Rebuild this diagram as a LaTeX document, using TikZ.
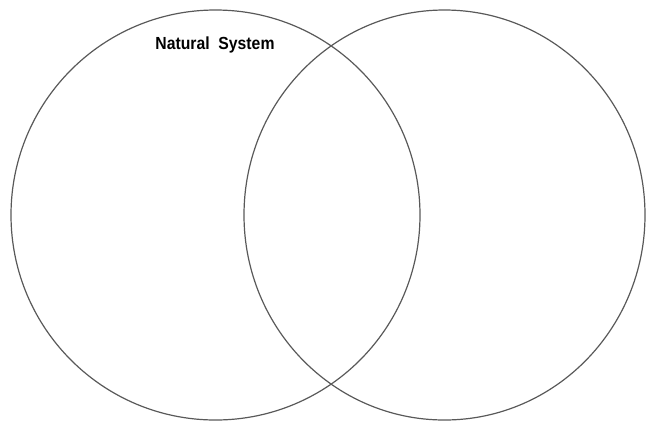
\documentclass[tikz,border=0pt]{standalone}
\usepackage{fontspec}
\usepackage{tikz}
\usetikzlibrary{positioning}
\usetikzlibrary{shapes}
\newfontfamily\labelfont{Liberation Sans}
\tikzset{
  set_circle/.style={ellipse, draw, color=black!65, line width=1.2bp, minimum height=410bp, inner sep=0},
  set_title/.style={draw = none, font=\labelfont\bfseries\fontsize{17.5bp}{20bp}\selectfont, xscale=0.9, inner sep=0}}

\begin{document}
\begin{tikzpicture}[x=1bp, y=-1bp]
\useasboundingbox (0,0) rectangle (647,421);

%% sets
\node[set_circle, minimum width=409bp] at (215.5,215) (left_set) {};
\node[set_circle, minimum width=401bp] at (444.5,215) (right_set) {};

%% title
\node[set_title] at (215,45) (natural) {Natural\ \ System};
\end{tikzpicture}
\end{document}
